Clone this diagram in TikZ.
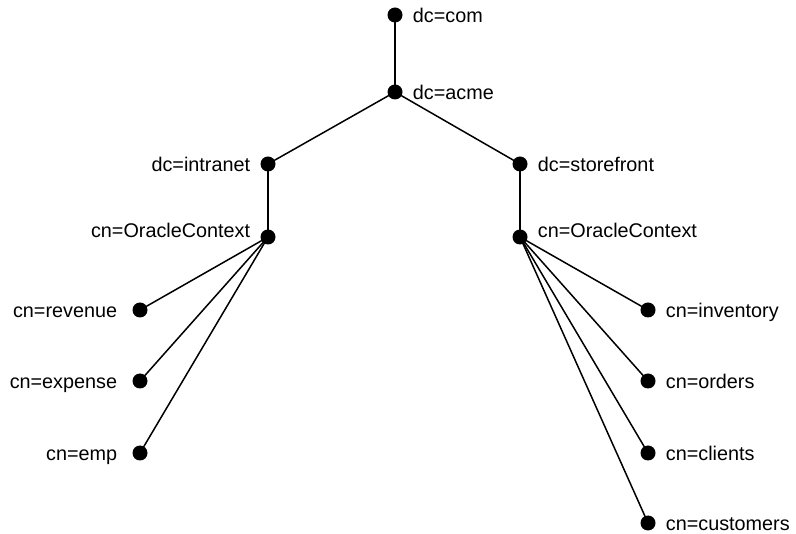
\documentclass[tikz,border=0pt]{standalone}
\usepackage{fontspec}
\setmainfont{Liberation Sans}
\begin{document}
\begin{tikzpicture}[x=1pt,y=-1pt,
  dot/.style={circle,fill=black,inner sep=0pt,minimum size=15pt},
  edge/.style={line width=1.5pt},
  every label/.style={font=\fontsize{19.8}{22}\selectfont,inner sep=0pt,
    text height=10.2pt,text depth=0pt,yshift=-2pt},
  label distance=10pt]
\useasboundingbox (0,0) rectangle (796,534);
\node[dot,label={right:{dc=com}}] (com) at (395,15) {};
\node[dot,label={right:{dc=acme}}] (acme) at (395,92) {};
\node[dot,label={left:{dc=intranet}}] (intranet) at (268,164) {};
\node[dot,label={right:{dc=storefront}}] (store) at (520,164) {};
\node[dot,label={[yshift=7pt]left:{cn=OracleContext}}] (ocl) at (268,237) {};
\node[dot,label={[yshift=7pt]right:{cn=OracleContext}}] (ocr) at (520,237) {};
\node[dot,label={[label distance=15pt]left:{cn=revenue}}] (rev) at (140,310) {};
\node[dot,label={[label distance=15pt]left:{cn=expense}}] (exp) at (140,381) {};
\node[dot,label={[label distance=15pt]left:{cn=emp}}] (emp) at (140,453) {};
\node[dot,label={right:{cn=inventory}}] (inv) at (648,310) {};
\node[dot,label={right:{cn=orders}}] (ord) at (648,381) {};
\node[dot,label={right:{cn=clients}}] (cli) at (648,453) {};
\node[dot,label={right:{cn=customers}}] (cus) at (648,523) {};
\draw[edge] (com.center) -- (acme.center);
\draw[edge] (acme.center) -- (intranet.center);
\draw[edge] (acme.center) -- (store.center);
\draw[edge] (intranet.center) -- (ocl.center);
\draw[edge] (store.center) -- (ocr.center);
\foreach \n in {rev,exp,emp} \draw[edge] (ocl.center) -- (\n.center);
\foreach \n in {inv,ord,cli,cus} \draw[edge] (ocr.center) -- (\n.center);
\end{tikzpicture}
\end{document}
